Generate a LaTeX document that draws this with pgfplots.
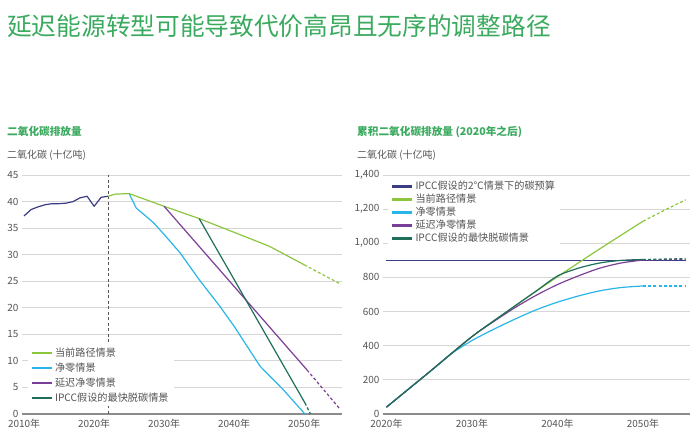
\documentclass[border=0pt]{standalone}
\usepackage{fontspec}
\setmainfont{Noto Sans CJK SC}
\usepackage{pgfplots}
\pgfplotsset{compat=1.18}
\definecolor{curc}{HTML}{8CC63F}
\definecolor{nzc}{HTML}{29B5E8}
\definecolor{dnzc}{HTML}{7B3F98}
\definecolor{ipccc}{HTML}{1E6E5A}
\definecolor{navyc}{HTML}{3B3C85}
\definecolor{ttl}{HTML}{3AAA5E}
\definecolor{gridc}{HTML}{D6D6D6}
\definecolor{axisc}{HTML}{8C8C8C}
\definecolor{txt}{HTML}{555555}
\pgfplotsset{
  mystyle/.style={
    scale only axis, anchor=south west, height=239bp,
    axis x line=bottom, axis y line=left,
    x axis line style={-, draw=axisc, line width=2bp},
    y axis line style={draw=none},
    major tick length=0pt,
    ymajorgrids, grid style={draw=gridc, line width=0.9bp},
    tick label style={font=\fontsize{10}{12}\selectfont, text=txt},
    xticklabel style={yshift=-2bp},
    /pgf/number format/assume math mode=true,
    /pgf/number format/1000 sep={,},
    every axis plot/.append style={line width=1.2bp, line join=round},
    legend image code/.code={\draw[#1, line width=1.8bp, solid] (0bp,0bp) -- (20bp,0bp);},
    legend cell align=left,
    legend style={draw=none, fill=white, inner xsep=3bp, inner ysep=2bp,
      font=\fontsize{10.2}{12}\selectfont, text=txt,
      nodes={inner xsep=2bp, inner ysep=1bp, text height=8.5bp, text depth=2bp},
      anchor=north west},
  },
  dsh/.style={dash pattern=on 3bp off 2.2bp},
}
\begin{document}
\begin{tikzpicture}
\path[use as bounding box] (0,0) rectangle (700bp,439bp);
\node[anchor=west, inner sep=0pt, text=ttl, font=\fontsize{24.8}{28}\selectfont] at (7bp,413bp) {延迟能源转型可能导致代价高昂且无序的调整路径};
\node[anchor=west, inner sep=0pt, text=ttl, font=\fontsize{10.7}{12}\selectfont\bfseries] at (7bp,307.3bp) {二氧化碳排放量};
\node[anchor=west, inner sep=0pt, text=txt, font=\fontsize{10}{12}\selectfont] at (7bp,284bp) {二氧化碳 (十亿吨)};
\node[anchor=west, inner sep=0pt, text=ttl, font=\fontsize{10.7}{12}\selectfont\bfseries] at (357bp,307.3bp) {累积二氧化碳排放量 (2020年之后)};
\node[anchor=west, inner sep=0pt, text=txt, font=\fontsize{10}{12}\selectfont] at (357bp,284bp) {二氧化碳 (十亿吨)};

\begin{axis}[mystyle, at={(22bp,25bp)}, width=320bp,
  xmin=2009.7, xmax=2055.4, ymin=0, ymax=45,
  ytick={0,5,...,45},
  xtick={2010,2020,2030,2040,2050},
  xticklabels={2010年,2020年,2030年,2040年,2050年},
  legend style={at={(0.019,0.29)}, row sep=2.5bp}]
\addplot[navyc, forget plot] coordinates {
 (2010,37.3) (2011,38.5) (2012,39.0) (2013,39.4) (2014,39.6) (2015,39.6)
 (2016,39.7) (2017,40.0) (2018,40.7) (2019,41.0) (2020,39.1) (2021,40.8) (2022,41.0)};
\addplot[forget plot, draw=txt, line width=0.9bp, dash pattern=on 3bp off 2.5bp] coordinates {(2022,0) (2022,45)};
\addplot[curc] coordinates {
 (2022,41.0) (2023,41.4) (2025,41.5) (2030,39.1) (2035,36.8) (2040,34.2) (2045,31.6) (2050,28.1)};
\addplot[nzc] coordinates {
 (2025,41.5) (2026,38.8) (2028.5,36.0) (2030,33.8) (2032.3,30.3) (2035,25.3) (2038,20.2)
 (2040,16.5) (2043.7,9.0) (2047,4.6) (2050.1,0)};
\addplot[dnzc] coordinates {(2030,39.1) (2050.4,8.3)};
\addplot[ipccc] coordinates {(2035,36.8) (2050.1,2.1)};
\addplot[curc, dsh, forget plot] coordinates {(2050,28.1) (2055,24.6)};
\addplot[dnzc, dsh, forget plot] coordinates {(2050.4,8.3) (2055,1.1)};
\addplot[ipccc, dsh, forget plot] coordinates {(2050.1,2.1) (2050.9,0)};
\legend{当前路径情景,净零情景,延迟净零情景,IPCC假设的最快脱碳情景}
\end{axis}

\begin{axis}[mystyle, at={(383bp,25bp)}, width=307bp,
  xmin=2019.6, xmax=2055.5, ymin=0, ymax=1400,
  ytick={0,200,...,1400},
  xtick={2020,2030,2040,2050},
  xticklabels={2020年,2030年,2040年,2050年},
  legend image code/.code={\draw[#1, line width=2.4bp, solid] (0bp,0bp) -- (20bp,0bp);},
  legend style={at={(0.016,0.987)}, row sep=0.5bp}]
\addplot[navyc] coordinates {(2020,900) (2055,900)};
\addplot[curc, smooth] coordinates {
 (2020,40) (2022.5,143) (2025,245) (2027.5,350) (2030,453) (2035,632) (2040,804) (2045,969) (2050,1129)};
\addplot[nzc, smooth] coordinates {
 (2020,40) (2022.5,143) (2025,245) (2027.5,350) (2030,430) (2032.5,495) (2035,555) (2037.5,610)
 (2040,655) (2042.5,692) (2045,722) (2047.5,741) (2050,750)};
\addplot[dnzc, smooth] coordinates {
 (2020,40) (2025,245) (2030,453) (2032.5,540) (2035,622) (2037.5,695) (2040,758) (2042.5,810)
 (2045,855) (2047.5,885) (2050,902)};
\addplot[ipccc, smooth] coordinates {
 (2020,40) (2025,245) (2030,453) (2035,632) (2037.5,720) (2040,808) (2042.5,855)
 (2045,885) (2047.5,900) (2050,905)};
\addplot[curc, dsh, smooth, forget plot] coordinates {(2050,1129) (2052.5,1193) (2055,1255)};
\addplot[nzc, dsh, forget plot] coordinates {(2050,750) (2055,750)};
\addplot[dnzc, dsh, forget plot] coordinates {(2050,902) (2055,905)};
\addplot[ipccc, dsh, forget plot] coordinates {(2050,905) (2055,910)};
\legend{IPCC假设的2℃情景下的碳预算,当前路径情景,净零情景,延迟净零情景,IPCC假设的最快脱碳情景}
\end{axis}
\end{tikzpicture}
\end{document}
